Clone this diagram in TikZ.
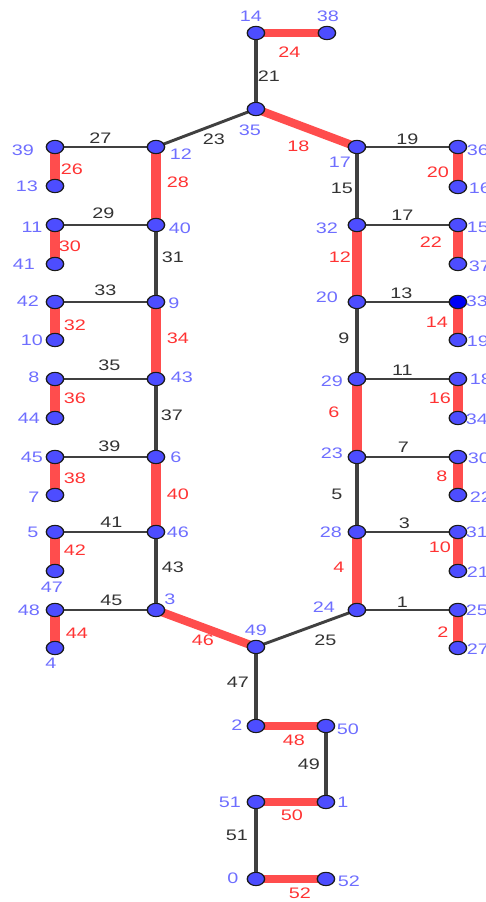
\documentclass[tikz,border=0pt]{standalone}
\usepackage{fontspec}
\usetikzlibrary{backgrounds}
\newfontfamily\ggsans{Liberation Sans}
\newcommand\labfont{\ggsans\fontsize{13}{15}\selectfont}
\definecolor{vblue}{RGB}{77,77,255}
\definecolor{vdark}{RGB}{0,0,245}
\definecolor{vline}{RGB}{26,26,26}
\definecolor{vtext}{RGB}{110,110,255}
\definecolor{rline}{RGB}{255,77,77}
\definecolor{rtext}{RGB}{255,51,51}
\definecolor{bline}{RGB}{64,64,64}
\definecolor{btext}{RGB}{51,51,51}
\tikzset{
  gg/.style={x=0.0230769cm, y=-0.03cm, transform canvas={xscale=1.3}},
  vtx/.style={circle, draw=vline, fill=vblue, line width=0.9pt, minimum size=0.4cm, inner sep=0pt},
  vlab/.style={text=vtext, font=\labfont, inner sep=0pt},
  nl/.style args={#1/#2/#3}{label={[vlab, shift={(#1,#2)}]center:#3}},
  bedge/.style={draw=bline, line width=2.4pt},
  redge/.style={draw=rline, line width=6.8pt},
  blab/.style={text=btext, font=\labfont, inner sep=0pt},
  rlab/.style={text=rtext, font=\labfont, inner sep=0pt}
}

\begin{document}
\begin{tikzpicture}
  \useasboundingbox (0,0) rectangle (14.55,-27.06);
  \clip (0,0) rectangle (14.55,-27.06);
  \begin{scope}[gg]
  \node[vtx, nl=-5/-17/14] (v14) at (256,33) {};
  \node[vtx, nl=1/-17/38] (v38) at (327,33) {};
  \node[vtx, nl=-6/21/35] (v35) at (256,109) {};
  \node[vtx, nl=-32/3/39] (v39) at (55,147) {};
  \node[vtx, nl=25/7/12] (v12) at (156,147) {};
  \node[vtx, nl=-17/15/17] (v17) at (357,147) {};
  \node[vtx, nl=20/3/36] (v36) at (458,147) {};
  \node[vtx, nl=-28/0/13] (v13) at (55,186) {};
  \node[vtx, nl=22/1/16] (v16) at (458,187) {};
  \node[vtx, nl=-23/2/11] (v11) at (55,225) {};
  \node[vtx, nl=24/3/40] (v40) at (156,225) {};
  \node[vtx, nl=-30/3/32] (v32) at (357,225) {};
  \node[vtx, nl=20/2/15] (v15) at (458,225) {};
  \node[vtx, nl=-31/0/41] (v41) at (55,264) {};
  \node[vtx, nl=22/2/37] (v37) at (458,264) {};
  \node[vtx, nl=-27/-1/42] (v42) at (55,302) {};
  \node[vtx, nl=18/1/9] (v9) at (156,302) {};
  \node[vtx, nl=-30/-5/20] (v20) at (357,302) {};
  \node[vtx, fill=vdark, nl=19/-1/33] (v33) at (458,302) {};
  \node[vtx, nl=-23/0/10] (v10) at (55,340) {};
  \node[vtx, nl=20/1/19] (v19) at (458,340) {};
  \node[vtx, nl=-21/-2/8] (v8) at (55,379) {};
  \node[vtx, nl=26/-2/43] (v43) at (156,379) {};
  \node[vtx, nl=-25/2/29] (v29) at (357,379) {};
  \node[vtx, nl=23/0/18] (v18) at (458,379) {};
  \node[vtx, nl=-26/0/44] (v44) at (55,418) {};
  \node[vtx, nl=19/1/34] (v34) at (458,418) {};
  \node[vtx, nl=-23/0/45] (v45) at (55,457) {};
  \node[vtx, nl=20/0/6] (v6) at (156,457) {};
  \node[vtx, nl=-25/-4/23] (v23) at (357,457) {};
  \node[vtx, nl=21/1/30] (v30) at (458,457) {};
  \node[vtx, nl=-21/2/7] (v7) at (55,495) {};
  \node[vtx, nl=23/2/22] (v22) at (458,495) {};
  \node[vtx, nl=-22/0/5] (v5) at (55,532) {};
  \node[vtx, nl=22/0/46] (v46) at (156,532) {};
  \node[vtx, nl=-26/0/28] (v28) at (357,532) {};
  \node[vtx, nl=19/0/31] (v31) at (458,532) {};
  \node[vtx, nl=-3/16/47] (v47) at (55,571) {};
  \node[vtx, nl=20/1/21] (v21) at (458,571) {};
  \node[vtx, nl=-26/0/48] (v48) at (55,610) {};
  \node[vtx, nl=14/-11/3] (v3) at (156,610) {};
  \node[vtx, nl=-33/-3/24] (v24) at (357,610) {};
  \node[vtx, nl=19/0/25] (v25) at (458,610) {};
  \node[vtx, nl=-4/15/4] (v4) at (55,648) {};
  \node[vtx, nl=0/-17/49] (v49) at (256,647) {};
  \node[vtx, nl=20/1/27] (v27) at (458,648) {};
  \node[vtx, nl=-19/-1/2] (v2) at (256,726) {};
  \node[vtx, nl=22/3/50] (v50) at (326,726) {};
  \node[vtx, nl=-26/0/51] (v51) at (256,802) {};
  \node[vtx, nl=17/0/1] (v1) at (326,802) {};
  \node[vtx, nl=-23/-1/0] (v0) at (256,879) {};
  \node[vtx, nl=23/2/52] (v52) at (326,879) {};
  \end{scope}
  \begin{scope}[on background layer]
  \begin{scope}[gg]
  % black edges
  \draw[bedge] (v14.center) -- node[blab, shift={(13,5)}] {21} (v35.center);
  \draw[bedge] (v35.center) -- node[blab, shift={(8,11)}] {23} (v12.center);
  \draw[bedge] (v39.center) -- node[blab, shift={(-5,-9)}] {27} (v12.center);
  \draw[bedge] (v17.center) -- node[blab, shift={(0,-8)}] {19} (v36.center);
  \draw[bedge] (v17.center) -- node[blab, shift={(-15,2)}] {15} (v32.center);
  \draw[bedge] (v11.center) -- node[blab, shift={(-2,-12)}] {29} (v40.center);
  \draw[bedge] (v32.center) -- node[blab, shift={(-5,-10)}] {17} (v15.center);
  \draw[bedge] (v40.center) -- node[blab, shift={(17,-6)}] {31} (v9.center);
  \draw[bedge] (v42.center) -- node[blab, shift={(0,-12)}] {33} (v9.center);
  \draw[bedge] (v20.center) -- node[blab, shift={(-6,-9)}] {13} (v33.center);
  \draw[bedge] (v20.center) -- node[blab, shift={(-13,-2)}] {9} (v29.center);
  \draw[bedge] (v8.center) -- node[blab, shift={(4,-14)}] {35} (v43.center);
  \draw[bedge] (v29.center) -- node[blab, shift={(-5,-9)}] {11} (v18.center);
  \draw[bedge] (v43.center) -- node[blab, shift={(16,-3)}] {37} (v6.center);
  \draw[bedge] (v45.center) -- node[blab, shift={(4,-11)}] {39} (v6.center);
  \draw[bedge] (v23.center) -- node[blab, shift={(-4,-10)}] {7} (v30.center);
  \draw[bedge] (v23.center) -- node[blab, shift={(-20,0)}] {5} (v28.center);
  \draw[bedge] (v5.center) -- node[blab, shift={(6,-10)}] {41} (v46.center);
  \draw[bedge] (v28.center) -- node[blab, shift={(-3,-9)}] {3} (v31.center);
  \draw[bedge] (v46.center) -- node[blab, shift={(17,-4)}] {43} (v3.center);
  \draw[bedge] (v48.center) -- node[blab, shift={(6,-10)}] {45} (v3.center);
  \draw[bedge] (v24.center) -- node[blab, shift={(-5,-8)}] {1} (v25.center);
  \draw[bedge] (v49.center) -- node[blab, shift={(19,12)}] {25} (v24.center);
  \draw[bedge] (v49.center) -- node[blab, shift={(-18,-4)}] {47} (v2.center);
  \draw[bedge] (v50.center) -- node[blab, shift={(-17,0)}] {49} (v1.center);
  \draw[bedge] (v51.center) -- node[blab, shift={(-19,-5)}] {51} (v0.center);
  % red edges
  \draw[redge] (v14.center) -- node[rlab, shift={(-2,19)}] {24} (v38.center);
  \draw[redge] (v35.center) -- node[rlab, shift={(-8,18)}] {18} (v17.center);
  \draw[redge] (v39.center) -- node[rlab, shift={(17,3)}] {26} (v13.center);
  \draw[redge] (v12.center) -- node[rlab, shift={(22,-4)}] {28} (v40.center);
  \draw[redge] (v36.center) -- node[rlab, shift={(-20,5)}] {20} (v16.center);
  \draw[redge] (v11.center) -- node[rlab, shift={(15,2)}] {30} (v41.center);
  \draw[redge] (v32.center) -- node[rlab, shift={(-17,-6)}] {12} (v20.center);
  \draw[redge] (v15.center) -- node[rlab, shift={(-27,-2)}] {22} (v37.center);
  \draw[redge] (v42.center) -- node[rlab, shift={(20,4)}] {32} (v10.center);
  \draw[redge] (v9.center) -- node[rlab, shift={(22,-2)}] {34} (v43.center);
  \draw[redge] (v33.center) -- node[rlab, shift={(-21,1)}] {14} (v19.center);
  \draw[redge] (v8.center) -- node[rlab, shift={(20,0)}] {36} (v44.center);
  \draw[redge] (v29.center) -- node[rlab, shift={(-23,-6)}] {6} (v23.center);
  \draw[redge] (v18.center) -- node[rlab, shift={(-18,0)}] {16} (v34.center);
  \draw[redge] (v45.center) -- node[rlab, shift={(20,2)}] {38} (v7.center);
  \draw[redge] (v6.center) -- node[rlab, shift={(22,0)}] {40} (v46.center);
  \draw[redge] (v30.center) -- node[rlab, shift={(-16,0)}] {8} (v22.center);
  \draw[redge] (v5.center) -- node[rlab, shift={(20,-1)}] {42} (v47.center);
  \draw[redge] (v28.center) -- node[rlab, shift={(-18,-4)}] {4} (v24.center);
  \draw[redge] (v31.center) -- node[rlab, shift={(-18,-4)}] {10} (v21.center);
  \draw[redge] (v48.center) -- node[rlab, shift={(22,4)}] {44} (v4.center);
  \draw[redge] (v3.center) -- node[rlab, shift={(-3,12)}] {46} (v49.center);
  \draw[redge] (v25.center) -- node[rlab, shift={(-15,3)}] {2} (v27.center);
  \draw[redge] (v2.center) -- node[rlab, shift={(3,14)}] {48} (v50.center);
  \draw[redge] (v51.center) -- node[rlab, shift={(1,13)}] {50} (v1.center);
  \draw[redge] (v0.center) -- node[rlab, shift={(9,14)}] {52} (v52.center);
  \end{scope}
  \end{scope}
\end{tikzpicture}
\end{document}
